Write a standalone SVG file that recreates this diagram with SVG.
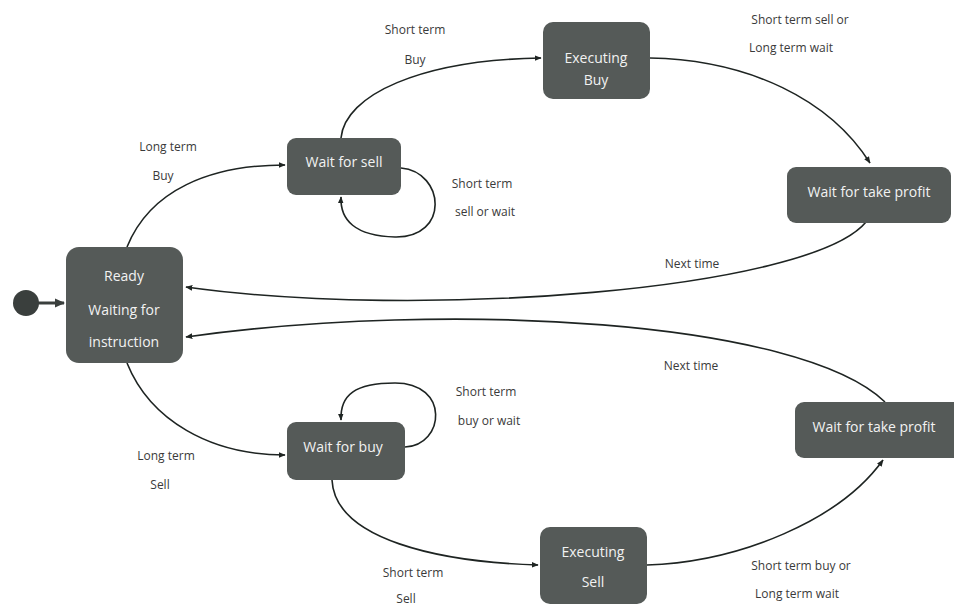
<svg xmlns="http://www.w3.org/2000/svg" width="954" height="608" viewBox="0 0 954 608">
  <style>
    .node rect { fill: #555a58; stroke: none; }
    .node text { fill: #f2f2f2; font-family: "Open Sans", "DejaVu Sans", sans-serif; font-size: 14px; text-anchor: middle; }
    .edge { fill: none; stroke: #1e2422; stroke-width: 1.6; marker-end: url(#arrow); }
    .label { fill: #3a3a3a; font-family: "Open Sans", "DejaVu Sans", sans-serif; font-size: 12px; text-anchor: middle; }
  </style>
  <defs>
    <marker id="arrow" viewBox="0 0 10 10" refX="9" refY="5" markerWidth="7" markerHeight="7" orient="auto" markerUnits="userSpaceOnUse">
      <path d="M0,1 L10,5 L0,9 z" fill="#1e2422"/>
    </marker>
    <marker id="arrowBig" viewBox="0 0 10 10" refX="9" refY="5" markerWidth="10" markerHeight="10" orient="auto" markerUnits="userSpaceOnUse">
      <path d="M0,0.5 L10,5 L0,9.5 z" fill="#3a3f3d"/>
    </marker>
  </defs>
  <rect width="954" height="608" fill="#ffffff"/>

  <!-- transitions -->
  <g id="connectors">
    <path class="edge" style="stroke:#3a3f3d;stroke-width:3;marker-end:url(#arrowBig)" d="M38,303 L64,303"/>
    <path class="edge" d="M127,247 C 150,190 210,165 285,165"/>
    <path class="edge" d="M341,138 C 345,95 420,60 541,58"/>
    <path class="edge" d="M650,58 C 750,60 830,100 870,163"/>
    <path class="edge" d="M401,168 C 445,172 450,238 395,237 C 355,236 340,220 341,197"/>
    <path class="edge" d="M866,222 C 810,290 420,320 186,287"/>
    <path class="edge" d="M885,402 C 800,320 450,300 186,337"/>
    <path class="edge" d="M127,363 C 150,420 210,455 285,455"/>
    <path class="edge" d="M405,447 C 445,445 450,383 395,383 C 355,383 340,395 341,420"/>
    <path class="edge" d="M332,480 C 335,540 440,562 538,565"/>
    <path class="edge" d="M647,565 C 740,562 840,520 883,460"/>
  </g>

  <!-- start marker -->
  <g id="start">
    <circle cx="26" cy="303" r="13" fill="#3a3f3d"/>
  </g>

  <g id="ready" class="node">
    <rect x="66" y="247" width="117" height="116" rx="13"/>
    <text x="124" y="281">Ready</text>
    <text x="124" y="315">Waiting for</text>
    <text x="124" y="347">instruction</text>
  </g>

  <g id="wait-sell" class="node">
    <rect x="287" y="138" width="114" height="57" rx="9"/>
    <text x="344" y="167">Wait for sell</text>
  </g>

  <g id="exec-buy" class="node">
    <rect x="543" y="22" width="107" height="77" rx="10"/>
    <text x="596" y="63">Executing</text>
    <text x="596" y="85">Buy</text>
  </g>

  <g id="profit-top" class="node">
    <rect x="787" y="167" width="164" height="56" rx="9"/>
    <text x="869" y="197">Wait for take profit</text>
  </g>

  <g id="wait-buy" class="node">
    <rect x="287" y="422" width="118" height="58" rx="9"/>
    <text x="343" y="452">Wait for buy</text>
  </g>

  <g id="exec-sell" class="node">
    <rect x="540" y="527" width="107" height="77" rx="10"/>
    <text x="593" y="557">Executing</text>
    <text x="593" y="587">Sell</text>
  </g>

  <g id="profit-bottom" class="node">
    <rect x="795" y="402" width="170" height="56" rx="9"/>
    <text x="874" y="432">Wait for take profit</text>
  </g>

  <!-- transition labels -->
  <g id="labels">
    <text class="label" x="415" y="34">Short term</text>
    <text class="label" x="415" y="64">Buy</text>
    <text class="label" x="800" y="24">Short term sell or</text>
    <text class="label" x="791" y="52">Long term wait</text>
    <text class="label" x="168" y="151">Long term</text>
    <text class="label" x="163" y="180">Buy</text>
    <text class="label" x="482" y="188">Short term</text>
    <text class="label" x="485" y="216">sell or wait</text>
    <text class="label" x="692" y="268">Next time</text>
    <text class="label" x="691" y="370">Next time</text>
    <text class="label" x="486" y="396">Short term</text>
    <text class="label" x="489" y="425">buy or wait</text>
    <text class="label" x="166" y="460">Long term</text>
    <text class="label" x="160" y="489">Sell</text>
    <text class="label" x="413" y="577">Short term</text>
    <text class="label" x="406" y="603">Sell</text>
    <text class="label" x="801" y="570">Short term buy or</text>
    <text class="label" x="797" y="598">Long term wait</text>
  </g>
</svg>
